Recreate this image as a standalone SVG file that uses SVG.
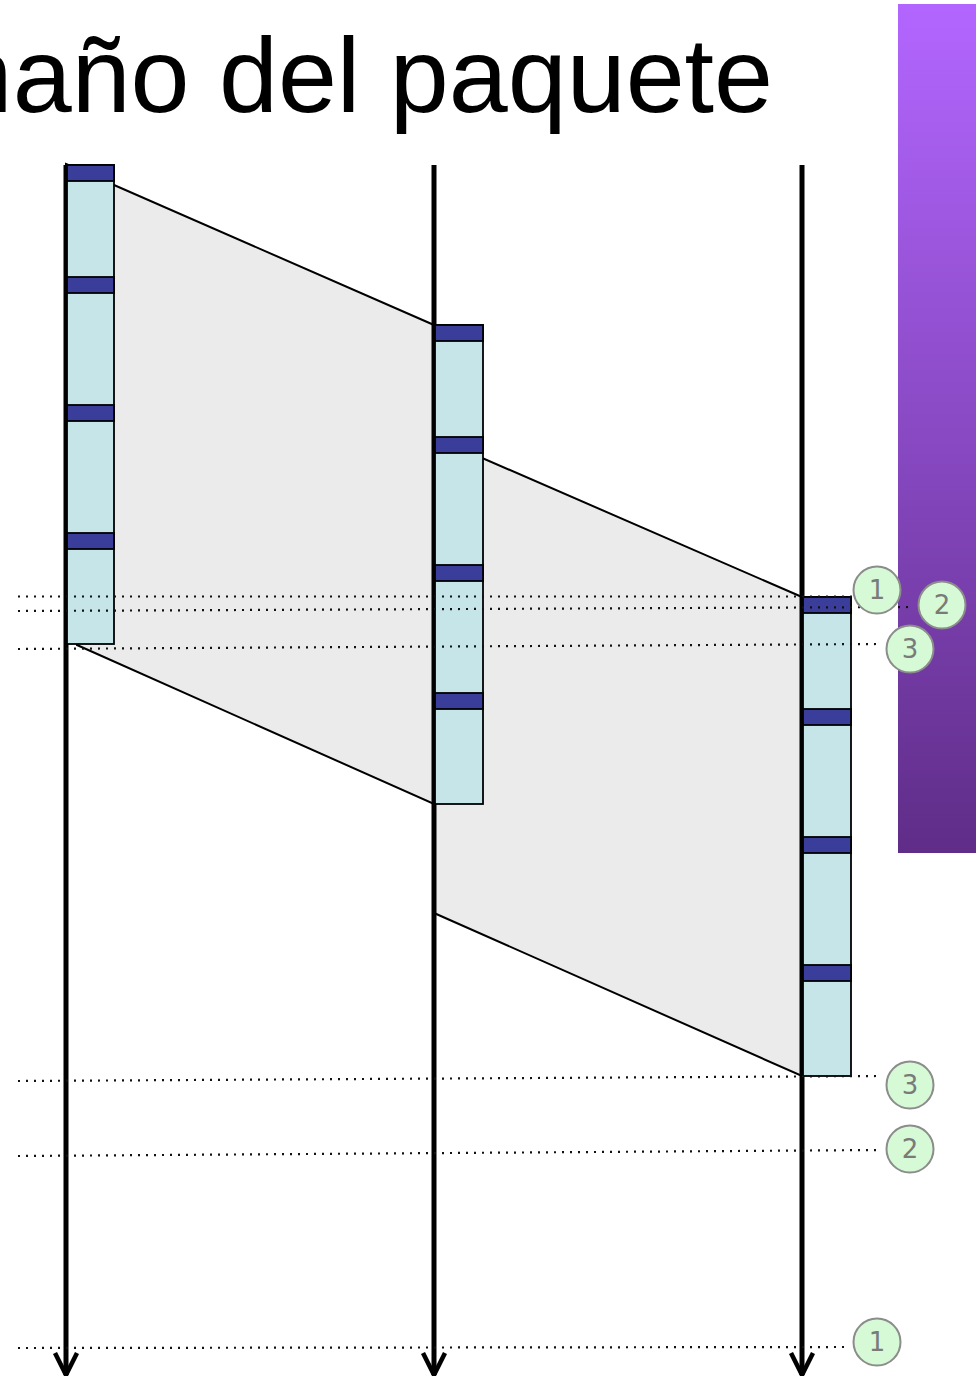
<svg xmlns="http://www.w3.org/2000/svg" width="976" height="1376" viewBox="0 0 976 1376">
<defs>
<linearGradient id="purple" x1="0" y1="0" x2="0" y2="1">
<stop offset="0" stop-color="#b366ff"/>
<stop offset="1" stop-color="#5f2d88"/>
</linearGradient>
<marker id="arrow" markerUnits="userSpaceOnUse" markerWidth="30" markerHeight="30" viewBox="-15 -28 30 30" refX="0" refY="0" orient="auto-start-reverse" overflow="visible">
<path d="M-22,-11 L0,0 L-22,11" fill="none" stroke="#000" stroke-width="4.5"/>
</marker>
<style>
.title{font-family:"Liberation Sans",Arial,sans-serif;font-size:106px;fill:#000}
.band{fill:#ebebeb;stroke:#000;stroke-width:2}
.tl{stroke:#000;stroke-width:5;fill:none}
.hdr{fill:#3a3d99;stroke:#000;stroke-width:1.8}
.dat{fill:#c5e5e8;stroke:#000;stroke-width:1.8}
.dot{stroke:#111;stroke-width:2.2;stroke-dasharray:2 6;fill:none}
.lbl circle{fill:#d5fad5;stroke:#8c8c8c;stroke-width:2}
.lbl text{font-family:"DejaVu Sans",Verdana,sans-serif;font-size:26px;fill:#7a7a7a;text-anchor:middle}
</style>
</defs>
<rect id="purple-bar" x="898" y="4" width="78" height="849" fill="url(#purple)"/>
<text id="title" class="title" x="773" y="112" text-anchor="end">Tamaño del paquete</text>
<g id="connectors">
<polygon class="band" points="66,164 434,325 434,804 77,645"/>
<polygon class="band" points="434,437 802,597 802,1076 434,913"/>
<line class="tl" x1="66" y1="165" x2="66" y2="1375" marker-end="url(#arrow)"/>
<line class="tl" x1="434" y1="165" x2="434" y2="1375" marker-end="url(#arrow)"/>
<line class="tl" x1="802" y1="165" x2="802" y2="1375" marker-end="url(#arrow)"/>
</g>
<g id="packet-source">
<rect class="dat" x="67" y="165" width="47" height="479"/>
<rect class="hdr" x="67" y="165" width="47" height="16"/>
<rect class="hdr" x="67" y="277" width="47" height="16"/>
<rect class="hdr" x="67" y="405" width="47" height="16"/>
<rect class="hdr" x="67" y="533" width="47" height="16"/>
</g>
<g id="packet-router">
<rect class="dat" x="435" y="325" width="48" height="479"/>
<rect class="hdr" x="435" y="325" width="48" height="16"/>
<rect class="hdr" x="435" y="437" width="48" height="16"/>
<rect class="hdr" x="435" y="565" width="48" height="16"/>
<rect class="hdr" x="435" y="693" width="48" height="16"/>
</g>
<g id="packet-destination">
<rect class="dat" x="803" y="597" width="48" height="479"/>
<rect class="hdr" x="803" y="597" width="48" height="16"/>
<rect class="hdr" x="803" y="709" width="48" height="16"/>
<rect class="hdr" x="803" y="837" width="48" height="16"/>
<rect class="hdr" x="803" y="965" width="48" height="16"/>
</g>
<g id="guides">
<line class="dot" x1="18" y1="596.5" x2="852" y2="596.5"/>
<line class="dot" x1="18" y1="611" x2="912" y2="607"/>
<line class="dot" x1="18" y1="649" x2="880" y2="644"/>
<line class="dot" x1="18" y1="1081" x2="880" y2="1076"/>
<line class="dot" x1="18" y1="1156" x2="880" y2="1150"/>
<line class="dot" x1="18" y1="1348" x2="850" y2="1347"/>
</g>
<g id="label-1-top" class="lbl"><circle cx="877" cy="590" r="23.5"/><text x="877" y="599">1</text></g>
<g id="label-2-top" class="lbl"><circle cx="942" cy="605" r="23.5"/><text x="942" y="614">2</text></g>
<g id="label-3-top" class="lbl"><circle cx="910" cy="649" r="23.5"/><text x="910" y="658">3</text></g>
<g id="label-3-bottom" class="lbl"><circle cx="910" cy="1085" r="23.5"/><text x="910" y="1094">3</text></g>
<g id="label-2-bottom" class="lbl"><circle cx="910" cy="1149" r="23.5"/><text x="910" y="1158">2</text></g>
<g id="label-1-bottom" class="lbl"><circle cx="877" cy="1342" r="23.5"/><text x="877" y="1351">1</text></g>
</svg>
